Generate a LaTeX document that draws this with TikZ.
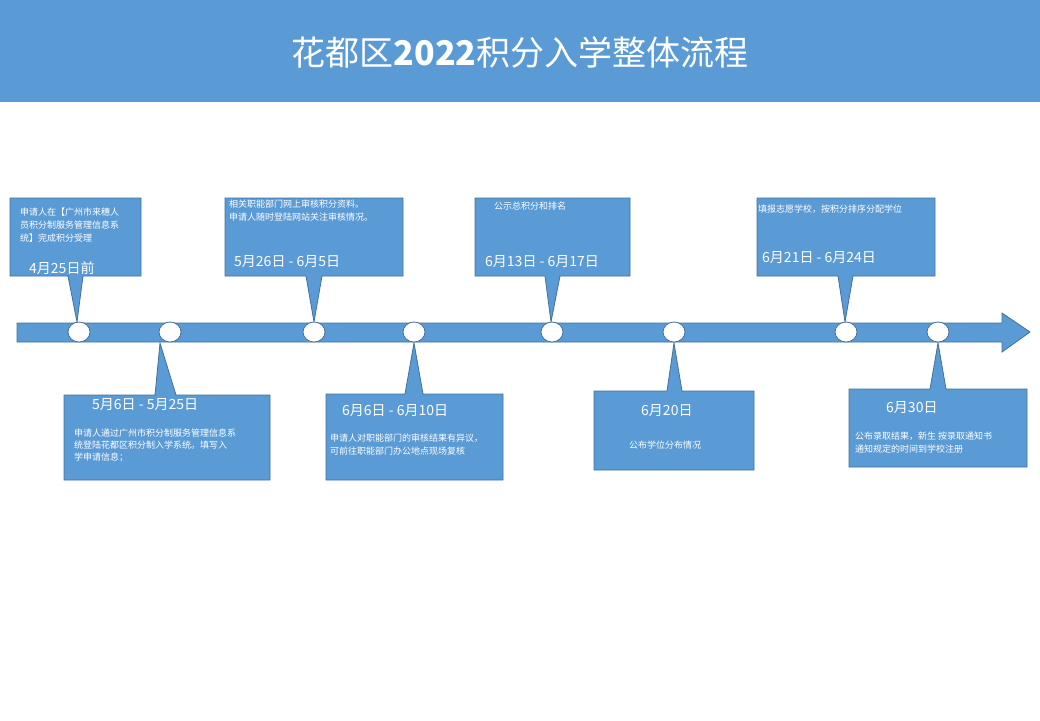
\documentclass[tikz,border=0pt]{standalone}
\usepackage{fontspec}
\usetikzlibrary{shapes.geometric}
\setmainfont{Noto Sans CJK SC}
\definecolor{bl}{HTML}{5B9BD5}
\definecolor{bd}{HTML}{41719C}
\begin{document}
\begin{tikzpicture}[x=1pt,y=-1pt,
  co/.style={fill=bl,draw=bd,line width=0.8pt,line join=miter},
  sm/.style={text=white,font=\fontsize{9}{11}\selectfont,anchor=west,inner sep=0pt},
  dt/.style={text=white,font=\fontsize{14}{16}\selectfont,anchor=west,inner sep=0pt},
  dot/.style={ellipse,draw=bd,fill=white,line width=0.8pt,minimum width=22pt,minimum height=20pt,inner sep=0pt}]
\useasboundingbox (0,0) rectangle (1040,720);
\fill[bl] (0,0) rectangle (1040,102);
\node[text=white,font=\fontsize{34}{40}\selectfont] (title) at (520,52) {花都区\textbf{2022}积分入学整体流程};
% timeline arrow
\path[co] (17,323) -- (1002,323) -- (1002,313) -- (1030,332) -- (1002,352) -- (1002,342) -- (17,342) -- cycle;
% top callouts
\path[co] (10,198) -- (141,198) -- (141,276) -- (83,276) -- (77,322) -- (68,276) -- (10,276) -- cycle;
\path[co] (225,198) -- (403,198) -- (403,276) -- (322,276) -- (314,322) -- (306,276) -- (225,276) -- cycle;
\path[co] (475,198) -- (630,198) -- (630,276) -- (560,276) -- (551,322) -- (545,276) -- (475,276) -- cycle;
\path[co] (757,198) -- (935,198) -- (935,276) -- (853,276) -- (845,322) -- (838,276) -- (757,276) -- cycle;
% bottom callouts
\path[co] (64,395) -- (155,395) -- (160,343) -- (176,395) -- (270,395) -- (270,480) -- (64,480) -- cycle;
\path[co] (326,394) -- (405,394) -- (414,343) -- (423,394) -- (503,394) -- (503,480) -- (326,480) -- cycle;
\path[co] (594,391) -- (667,391) -- (674,343) -- (682,391) -- (754,391) -- (754,470) -- (594,470) -- cycle;
\path[co] (849,389) -- (930,389) -- (938,343) -- (946,389) -- (1027,389) -- (1027,467) -- (849,467) -- cycle;
% dots
\foreach \n/\x in {d1/79,d2/170,d3/314,d4/414,d5/552,d6/674,d7/846,d8/938}
  \node[dot] (\n) at (\x,332) {};
% texts
\node[sm] (t1a) at (20,212) {申请人在【广州市来穗人};
\node[sm] (t1b) at (20,225) {员积分制服务管理信息系};
\node[sm] (t1c) at (20,238) {统】完成积分受理};
\node[dt] (t1d) at (29,268) {4月25日前};
\node[sm] (t2a) at (229,204) {相关职能部门网上审核积分资料。};
\node[sm] (t2b) at (229,217) {申请人随时登陆网站关注审核情况。};
\node[dt] (t2d) at (234,262) {5月26日 - 6月5日};
\node[sm] (t3a) at (494,206) {公示总积分和排名};
\node[dt] (t3d) at (485,262) {6月13日 - 6月17日};
\node[sm] (t4a) at (758,209) {填报志愿学校，按积分排序分配学位};
\node[dt] (t4d) at (762,258) {6月21日 - 6月24日};
\node[dt] (t5d) at (92,405) {5月6日 - 5月25日};
\node[sm] (t5a) at (74,433) {申请人通过广州市积分制服务管理信息系};
\node[sm] (t5b) at (74,445) {统登陆花都区积分制入学系统。填写入};
\node[sm] (t5c) at (74,457) {学申请信息；};
\node[dt] (t6d) at (342,411) {6月6日 - 6月10日};
\node[sm] (t6a) at (330,438) {申请人对职能部门的审核结果有异议，};
\node[sm] (t6b) at (330,451) {可前往职能部门办公地点现场复核};
\node[dt] (t7d) at (641,411) {6月20日};
\node[sm] (t7a) at (629,445) {公布学位分布情况};
\node[dt] (t8d) at (886,408) {6月30日};
\node[sm] (t8a) at (855,436) {公布录取结果，新生 按录取通知书};
\node[sm] (t8b) at (855,449) {通知规定的时间到学校注册};
\end{tikzpicture}
\end{document}
